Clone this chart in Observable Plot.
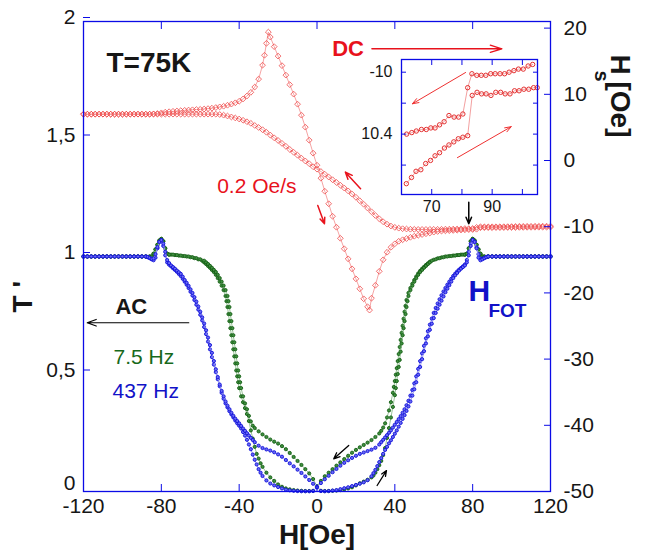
<!DOCTYPE html>
<html>
<head>
<meta charset="utf-8">
<script src="https://cdn.jsdelivr.net/npm/d3@7"></script>
<script src="https://cdn.jsdelivr.net/npm/@observablehq/plot@0.6"></script>
<style>
  html, body { margin: 0; padding: 0; background: white; }
  #wrap { position: relative; width: 654px; height: 550px; }
  #inset { position: absolute; left: 356px; top: 57px; }
</style>
</head>
<body>
<div id="wrap"><div id="main"></div><div id="inset"></div></div>
<script>
// ---------- axes / ticks ----------
const H_TICKS = [-120, -80, -40, 0, 40, 80, 120];
const T_TICKS = [0, 0.5, 1, 1.5, 2];
const T_TICK_LABELS = ["0", "0,5", "1", "1,5", "2"];
const HS_TICKS = [-50, -40, -30, -20, -10, 0, 10, 20];
const HS_DOMAIN = [-50, 21];
const INSET_X_TICKS = [70, 80, 90, 100];
const INSET_X_LABELS = ["70", "", "90", ""];
const INSET_Y_TICKS = [-10, -10.2, -10.4, -10.6];
const INSET_Y_LABELS = ["-10", "", "10.4", ""];

// ---------- DC: H_s [Oe] vs H [Oe], 0.2 Oe/s ----------
const dcSweepUp = [
[-120,7.0],[-118,7.0],[-116,7.0],[-114,7.0],[-112,7.0],[-110,7.0],[-108,7.0],[-106,7.0],[-104,7.0],[-102,7.0],[-100,7.0],[-98,7.0],[-96,7.0],[-94,7.0],[-92,7.0],[-90,7.0],[-88,7.0],[-86,7.0],[-84,7.05],[-82,7.1],
[-80,7.2],[-78,7.3],[-76,7.37],[-74,7.43],[-72,7.48],[-70,7.53],[-68,7.58],[-66,7.62],[-64,7.66],[-62,7.7],[-60,7.73],[-58,7.78],[-56,7.84],[-54,7.91],[-52,8.0],[-50,8.1],[-48,8.2],[-46,8.35],[-44,8.52],[-42,8.72],
[-40,8.95],[-38,9.3],[-36,9.75],[-34,10.3],[-32,11.1],[-30,12.3],[-28,14.4],[-27,15.9],[-26,17.7],[-25,19.4],[-24,18.65],[-22,17.2],[-20,15.77],[-18,14.33],[-16,12.9],[-14,11.46],[-12,10.03],[-10,8.51],[-8,6.85],[-6,5.04],
[-4,3.07],[-2,1.11],[0,-0.71],[2,-2.67],[4,-4.64],[6,-6.53],[8,-8.42],[10,-10.08],[12,-11.75],[14,-13.33],[16,-14.85],[18,-16.36],[20,-17.87],[22,-19.38],[24,-20.89],[26,-22.1],[27,-22.6],[28,-20.8],[30,-18.85],[32,-16.74],
[34,-15.0],[36,-13.86],[38,-13.11],[40,-12.58],[42,-12.2],[44,-11.97],[46,-11.79],[48,-11.6],[50,-11.44],[52,-11.3],[54,-11.18],[56,-11.06],[58,-10.95],[60,-10.82],[62,-10.72],[64,-10.66],[66,-10.62],[68,-10.59],[70,-10.56],[72,-10.53],
[74,-10.5],[76,-10.47],[78,-10.44],[80,-10.42],[82,-10.38],[84,-10.15],[86,-10.14],[88,-10.14],[90,-10.15],[92,-10.13],[94,-10.14],[96,-10.13],[98,-10.12],[100,-10.11],[102,-10.11],[104,-10.1],[106,-10.1],[108,-10.09],[110,-10.09],[112,-10.08],
[114,-10.08],[116,-10.07],[118,-10.07],[120,-10.06]
];
const dcSweepDown = [
[-120,7.0],[-118,7.0],[-116,7.0],[-114,7.0],[-112,7.0],[-110,7.0],[-108,7.0],[-106,7.0],[-104,7.0],[-102,7.0],[-100,7.0],[-98,7.0],[-96,7.0],[-94,7.0],[-92,7.0],[-90,7.0],[-88,7.0],[-86,7.0],[-84,7.0],[-82,7.0],
[-80,7.0],[-78,7.0],[-76,7.0],[-74,7.0],[-72,7.0],[-70,7.0],[-68,7.0],[-66,7.0],[-64,7.0],[-62,7.0],[-60,7.0],[-58,7.0],[-56,7.0],[-54,7.0],[-52,7.0],[-50,6.95],[-48,6.85],[-46,6.72],[-44,6.58],[-42,6.43],
[-40,6.27],[-38,6.08],[-36,5.86],[-34,5.62],[-32,5.3],[-30,4.99],[-28,4.66],[-26,4.27],[-24,3.84],[-22,3.43],[-20,3.03],[-18,2.59],[-16,2.15],[-14,1.68],[-12,1.24],[-10,0.8],[-8,0.35],[-6,-0.07],[-4,-0.48],[-2,-0.94],
[0,-1.31],[2,-1.66],[4,-2.07],[6,-2.49],[8,-2.9],[10,-3.31],[12,-3.73],[14,-4.16],[16,-4.59],[18,-5.06],[20,-5.55],[22,-6.08],[24,-6.61],[26,-7.18],[28,-7.74],[30,-8.3],[32,-8.8],[34,-9.25],[36,-9.62],[38,-9.9],
[40,-10.1],[42,-10.22],[44,-10.3],[46,-10.35],[48,-10.38],[50,-10.4],[52,-10.41],[54,-10.41],[56,-10.41],[58,-10.4],[60,-10.4],[62,-10.4],[64,-10.39],[66,-10.37],[68,-10.37],[70,-10.36],[72,-10.35],[74,-10.32],[76,-10.28],[78,-10.29],
[80,-10.27],[82,-10.1],[84,-10.01],[86,-10.02],[88,-10.02],[90,-10.01],[92,-10.01],[94,-10.01],[96,-10.0],[98,-9.99],[100,-9.98],[102,-9.97],[104,-9.95],[106,-9.95],[108,-9.94],[110,-9.94],[112,-9.93],[114,-9.93],[116,-9.92],[118,-9.92],
[120,-9.91]
];

// ---------- inset: H_s vs H near H_FOT ----------
const insetSweepUp = [
[61.6,-10.72],[63.3,-10.68],[64.8,-10.64],[66.4,-10.63],[68,-10.59],[69.6,-10.57],[71.1,-10.54],[72.6,-10.52],[74.2,-10.49],[75.7,-10.47],[77.3,-10.45],[78.8,-10.43],[80.3,-10.42],[81.9,-10.41],[83.4,-10.15],
[85,-10.13],[86.5,-10.14],[88,-10.14],[89.6,-10.15],[91.2,-10.13],[92.8,-10.13],[94.3,-10.14],[95.9,-10.14],[97.4,-10.12],[98.9,-10.12],[100.5,-10.11],[102.1,-10.11],[103.7,-10.1],[104.9,-10.1]
];
const insetSweepDown = [
[61.7,-10.4],[63.4,-10.39],[64.9,-10.38],[66.6,-10.37],[68.2,-10.37],[69.7,-10.36],[71.1,-10.36],[72.6,-10.34],[74.1,-10.32],[75.7,-10.28],[77.4,-10.29],[78.9,-10.29],[80.3,-10.27],[81.9,-10.1],
[83.3,-10.01],[84.9,-10.02],[86.4,-10.02],[87.9,-10.02],[89.5,-10.01],[91,-10.01],[92.6,-10.01],[94.1,-10.01],[95.6,-10.0],[97.2,-9.99],[98.7,-9.98],[100.3,-9.98],[101.9,-9.96],[103.4,-9.95]
];

// ---------- AC: T' vs H ----------
const ac75Up = [
[-120,1],[-118,1],[-116,1],[-114,1],[-112,1],[-110,1],[-108,1],[-106,1],[-104,1],[-102,1],[-100,1],[-98,1],[-96,1],[-94,1],[-92,1],[-90,1],[-88,1],[-86,1],
[-85,1],[-84,1.012],[-83,1.03],[-82,1.05],[-81,1.068],[-80,1.075],[-79,1.065],[-78,1.035],[-77,1.012],[-76,1.008],
[-74,1.008],[-72,1.006],[-70,1.004],[-68,1.002],[-66,1],[-64,0.997],[-62,0.993],[-60,0.988],[-58,0.982],[-57,0.975],[-56,0.968],[-55,0.96],[-54,0.952],[-53,0.943],[-52,0.934],[-51,0.922],[-50,0.908],[-49,0.893],[-48,0.876],[-47,0.857],
[-46,0.832],[-45.5,0.81],[-45,0.785],[-44.5,0.755],[-44,0.725],[-43.5,0.695],[-43,0.665],[-42.5,0.635],[-42,0.605],[-41.5,0.575],[-41,0.545],[-40.5,0.515],[-40,0.49],[-39.5,0.465],[-39,0.44],[-38,0.405],[-37,0.375],[-36,0.35],[-35,0.322],[-34,0.298],
[-33,0.28],[-32,0.27],[-30,0.256],[-28,0.243],[-26,0.232],[-24,0.221],[-22,0.212],[-20,0.204],[-18,0.193],[-16,0.18],[-14,0.164],[-12,0.147],[-10,0.13],[-8,0.113],[-6,0.095],[-4,0.077],[-2,0.053],[0,0.022],
[2,0.003],[4,0.002],[6,0.002],[8,0.003],[10,0.004],[12,0.006],[14,0.009],[16,0.013],[18,0.018],[20,0.026],[22,0.035],[24,0.042],[26,0.05],[28,0.06],[29,0.068],[30,0.08],[31,0.095],[32,0.112],[33,0.13],[34,0.155],
[35,0.185],[36,0.228],[37,0.27],[38,0.315],[39,0.36],[40,0.41],[40.5,0.44],[41,0.47],[41.5,0.5],[42,0.53],[42.5,0.56],[43,0.595],[43.5,0.63],[44,0.665],[44.5,0.695],[45,0.725],[45.5,0.755],[46,0.785],[46.5,0.81],[47,0.832],
[48,0.857],[49,0.876],[50,0.893],[51,0.908],[52,0.922],[53,0.934],[54,0.943],[55,0.952],[56,0.96],[57,0.968],[58,0.975],[59,0.982],[61,0.988],[63,0.993],[65,0.997],[67,1],[69,1.002],[71,1.004],[73,1.006],[75,1.008],
[76,1.008],[77,1.012],[78,1.035],[79,1.065],[80,1.075],[81,1.068],[82,1.05],[83,1.03],[84,1.012],[85,1],
[86,1],[88,1],[90,1],[92,1],[94,1],[96,1],[98,1],[100,1],[102,1],[104,1],[106,1],[108,1],[110,1],[112,1],[114,1],[116,1],[118,1],[120,1]
];
const ac75Down = [
[-120,1],[-118,1],[-116,1],[-114,1],[-112,1],[-110,1],[-108,1],[-106,1],[-104,1],[-102,1],[-100,1],[-98,1],[-96,1],[-94,1],[-92,1],[-90,1],[-88,1],[-86,1],
[-85,1],[-84,1.012],[-83,1.03],[-82,1.05],[-81,1.068],[-80,1.075],[-79,1.065],[-78,1.035],[-77,1.012],[-76,1.008],
[-75,1.008],[-73,1.006],[-71,1.004],[-69,1.002],[-67,1],[-65,0.997],[-63,0.993],[-61,0.988],[-59,0.982],[-58,0.975],[-57,0.968],[-56,0.96],[-55,0.952],[-54,0.943],[-53,0.934],[-52,0.922],[-51,0.908],[-50,0.893],[-49,0.876],[-48,0.857],
[-47,0.832],[-46.5,0.81],[-46,0.785],[-45.5,0.755],[-45,0.725],[-44.5,0.695],[-44,0.665],[-43.5,0.635],[-43,0.605],[-42.5,0.575],[-42,0.545],[-41.5,0.515],[-41,0.49],[-40.5,0.465],[-40,0.44],[-39,0.405],[-38,0.38],[-37,0.355],[-36,0.33],[-35,0.3],
[-34,0.26],[-33,0.225],[-32,0.19],[-31,0.16],[-30,0.14],[-29,0.12],[-28,0.105],[-26,0.08],[-24,0.06],[-22,0.045],[-20,0.03],[-18,0.02],[-16,0.013],[-14,0.009],[-12,0.006],[-10,0.004],[-8,0.003],[-6,0.002],[-4,0.002],[-2,0.003],
[0,0.02],[2,0.045],[4,0.065],[6,0.08],[8,0.095],[10,0.11],[12,0.124],[14,0.138],[16,0.152],[18,0.165],[20,0.177],[22,0.188],[24,0.198],[26,0.208],[28,0.219],[30,0.232],[32,0.247],[33,0.258],[34,0.272],[35,0.29],
[36,0.315],[37,0.345],[38,0.38],[39,0.42],[39.5,0.445],[40,0.47],[40.5,0.497],[41,0.525],[41.5,0.555],[42,0.585],[42.5,0.615],[43,0.645],[43.5,0.675],[44,0.705],[44.5,0.735],[45,0.765],[45.5,0.79],[46,0.815],[47,0.845],[48,0.866],
[49,0.884],[50,0.9],[51,0.915],[52,0.928],[53,0.939],[54,0.948],[55,0.956],[56,0.964],[57,0.971],[58,0.978],[60,0.986],[62,0.992],[64,0.996],[66,1],[68,1.002],[70,1.004],[72,1.006],[74,1.008],
[76,1.008],[77,1.012],[78,1.035],[79,1.065],[80,1.075],[81,1.068],[82,1.05],[83,1.03],[84,1.012],[85,1],
[86,1],[88,1],[90,1],[92,1],[94,1],[96,1],[98,1],[100,1],[102,1],[104,1],[106,1],[108,1],[110,1],[112,1],[114,1],[116,1],[118,1],[120,1]
];
const ac437Up = [
[-120,1],[-118,1],[-116,1],[-114,1],[-112,1],[-110,1],[-108,1],[-106,1],[-104,1],[-102,1],[-100,1],[-98,1],[-96,1],[-94,1],[-92,1],[-90,1],[-88,1],
[-87,0.998],[-86,0.994],[-85,0.99],[-84,0.992],[-83,1.01],[-82,1.04],[-81,1.062],[-80,1.07],[-79,1.055],[-78,1.02],[-77,0.985],[-76,0.972],[-75,0.962],[-74,0.955],[-73,0.948],[-72,0.94],[-71,0.933],[-70,0.926],[-69,0.914],[-68,0.9],
[-67,0.888],[-66,0.875],[-65,0.86],[-64,0.845],[-63,0.827],[-62,0.808],[-61,0.787],[-60,0.765],[-59,0.741],[-58,0.715],[-57,0.686],[-56,0.655],[-55,0.623],[-54,0.59],[-53,0.555],[-52,0.52],[-51,0.487],[-50,0.455],[-49,0.428],[-48,0.405],
[-47,0.383],[-46,0.365],[-45,0.35],[-44,0.335],[-43,0.322],[-42,0.31],[-41,0.3],[-40,0.29],[-39,0.279],[-38,0.268],[-37,0.258],[-36,0.248],[-35,0.238],[-34,0.228],[-33,0.219],[-32,0.21],[-30,0.195],[-28,0.185],[-26,0.179],[-24,0.174],
[-22,0.167],[-20,0.158],[-18,0.148],[-16,0.134],[-14,0.12],[-12,0.107],[-10,0.093],[-8,0.079],[-6,0.064],[-4,0.049],[-2,0.033],[0,0.018],
[2,0.002],[4,0.001],[6,0.002],[8,0.004],[10,0.006],[12,0.01],[14,0.014],[16,0.018],[18,0.023],[20,0.028],[22,0.033],[24,0.039],[26,0.048],[28,0.065],[29,0.078],[30,0.092],[31,0.108],[32,0.125],[33,0.142],[34,0.16],
[35,0.177],[36,0.19],[37,0.205],[38,0.218],[39,0.232],[40,0.246],[41,0.26],[42,0.276],[43,0.292],[44,0.309],[45,0.325],[46,0.343],[47,0.362],[48,0.383],[49,0.408],[50,0.435],[51,0.465],[52,0.497],[53,0.53],[54,0.563],
[55,0.597],[56,0.63],[57,0.66],[58,0.688],[59,0.714],[60,0.738],[61,0.76],[62,0.778],[63,0.795],[64,0.812],[65,0.83],[66,0.848],[67,0.863],[68,0.878],[69,0.893],[70,0.908],[71,0.92],[72,0.93],[73,0.94],[74,0.948],
[75,0.955],[76,0.962],[77,0.975],[78,1.005],[79,1.045],[80,1.07],[81,1.062],[82,1.035],[83,0.995],[84,0.984],[85,0.988],[86,0.993],[87,0.997],
[88,1],[90,1],[92,1],[94,1],[96,1],[98,1],[100,1],[102,1],[104,1],[106,1],[108,1],[110,1],[112,1],[114,1],[116,1],[118,1],[120,1]
];
const ac437Down = [
[-120,1],[-118,1],[-116,1],[-114,1],[-112,1],[-110,1],[-108,1],[-106,1],[-104,1],[-102,1],[-100,1],[-98,1],[-96,1],[-94,1],[-92,1],[-90,1],[-88,1],
[-87,0.997],[-86,0.993],[-85,0.988],[-84,0.984],[-83,0.995],[-82,1.035],[-81,1.062],[-80,1.07],[-79,1.045],[-78,1.005],[-77,0.975],[-76,0.965],[-75,0.958],[-74,0.95],[-73,0.943],[-72,0.935],[-71,0.926],[-70,0.917],[-69,0.905],[-68,0.893],
[-67,0.88],[-66,0.866],[-65,0.85],[-64,0.834],[-63,0.815],[-62,0.795],[-61,0.774],[-60,0.752],[-59,0.728],[-58,0.7],[-57,0.67],[-56,0.638],[-55,0.605],[-54,0.572],[-53,0.54],[-52,0.508],[-51,0.478],[-50,0.448],[-49,0.42],[-48,0.395],
[-47,0.375],[-46,0.358],[-45,0.342],[-44,0.328],[-43,0.315],[-42,0.302],[-41,0.29],[-40,0.28],[-39,0.268],[-38,0.253],[-37,0.238],[-36,0.22],[-35,0.2],[-34,0.18],[-33,0.157],[-32,0.135],[-31,0.115],[-30,0.095],[-29,0.08],[-28,0.066],
[-26,0.047],[-24,0.034],[-22,0.026],[-20,0.019],[-18,0.013],[-16,0.008],[-14,0.005],[-12,0.003],[-10,0.002],[-8,0.001],[-6,0.001],[-4,0.001],[-2,0.002],
[0,0.018],[2,0.036],[4,0.052],[6,0.067],[8,0.082],[10,0.096],[12,0.11],[14,0.122],[16,0.133],[18,0.143],[20,0.152],[22,0.16],[24,0.166],[26,0.172],[28,0.178],[30,0.186],[32,0.2],[33,0.21],[34,0.22],[35,0.23],
[36,0.24],[37,0.25],[38,0.26],[39,0.272],[40,0.284],[41,0.296],[42,0.308],[43,0.321],[44,0.335],[45,0.35],[46,0.367],[47,0.386],[48,0.408],[49,0.432],[50,0.46],[51,0.49],[52,0.522],[53,0.555],[54,0.588],[55,0.62],
[56,0.652],[57,0.682],[58,0.71],[59,0.736],[60,0.76],[61,0.781],[62,0.8],[63,0.818],[64,0.835],[65,0.851],[66,0.866],[67,0.88],[68,0.893],[69,0.905],[70,0.917],[71,0.927],[72,0.936],[73,0.944],[74,0.951],[75,0.958],
[76,0.966],[77,0.985],[78,1.02],[79,1.055],[80,1.07],[81,1.062],[82,1.04],[83,1.01],[84,0.992],[85,0.99],[86,0.994],[87,0.998],
[88,1],[90,1],[92,1],[94,1],[96,1],[98,1],[100,1],[102,1],[104,1],[106,1],[108,1],[110,1],[112,1],[114,1],[116,1],[118,1],[120,1]
];

// ---------- styling ----------
const BLUE = "#0b0be6", RED = "#e8121c", GREEN = "#17691a", TXT = "#161616";
const FONT = "'Liberation Sans', Arial, Helvetica, sans-serif";
// right (H_s) axis mapped onto the left (T') scale
const hsToT = hs => (hs - HS_DOMAIN[0]) / (HS_DOMAIN[1] - HS_DOMAIN[0]) * 2;

const dcX = d => d[0], dcY = d => hsToT(d[1]);
const acX = d => d[0], acY = d => d[1];

function dcMarks(data) {
  return [
    Plot.line(data, {x: dcX, y: dcY, stroke: "#f49a9a", strokeWidth: 0.9}),
    Plot.dot(data, {x: dcX, y: dcY, symbol: "diamond2", r: 2.6, stroke: "#ef4a4a", strokeWidth: 0.8, fill: "none"})
  ];
}
function acMarks(data, lineColor, dotStroke, dotFill) {
  return [
    Plot.line(data, {x: acX, y: acY, stroke: lineColor, strokeWidth: 0.9}),
    Plot.dot(data, {x: acX, y: acY, r: 1.6, stroke: dotStroke, strokeWidth: 0.9, fill: dotFill})
  ];
}
const leftLabel = d => T_TICK_LABELS[T_TICKS.indexOf(d)];

const main = Plot.plot({
  width: 654, height: 550,
  marginLeft: 83, marginRight: 104, marginTop: 21, marginBottom: 59,
  x: {domain: [-120, 120], axis: null},
  y: {domain: [0, 2], axis: null},
  style: {fontFamily: FONT, fontSize: "21px", color: TXT, background: "white", overflow: "visible"},
  marks: [
    ...dcMarks(dcSweepDown),
    ...dcMarks(dcSweepUp),
    ...acMarks(ac75Down, "#8dbd8d", "#155f15", "#3f8f3f"),
    ...acMarks(ac75Up, "#8dbd8d", "#155f15", "#3f8f3f"),
    ...acMarks(ac437Down, "#8f8ff2", "#1010d8", "#6a6af5"),
    ...acMarks(ac437Up, "#8f8ff2", "#1010d8", "#6a6af5"),
    Plot.frame({stroke: BLUE, strokeWidth: 1.3}),
    // axes
    Plot.axisX({anchor: "bottom", ticks: H_TICKS, tickSize: -7, tickPadding: 14, stroke: BLUE, fill: TXT, label: null, tickFormat: d => String(d)}),
    Plot.axisX({anchor: "top", ticks: H_TICKS, tickSize: -7, stroke: BLUE, label: null, tickFormat: () => ""}),
    Plot.axisY({anchor: "left", ticks: T_TICKS.slice(1), tickSize: -7, tickPadding: 15, dy: -4, stroke: BLUE, fill: TXT, label: null,
      tickFormat: leftLabel}),
    Plot.axisY({anchor: "left", ticks: T_TICKS.slice(0, 1), tickSize: 0, tickPadding: 8, dy: -8, fill: TXT, label: null,
      tickFormat: leftLabel}),
    Plot.axisY({anchor: "right", ticks: HS_TICKS.map(hsToT), tickSize: -7, tickPadding: 20, stroke: BLUE, fill: TXT, label: null,
      tickFormat: t => String(HS_TICKS[HS_TICKS.map(hsToT).indexOf(t)])}),
    // axis titles
    Plot.text(["H[Oe]"], {frameAnchor: "bottom", dy: 52, fontSize: 28, fontWeight: "bold", fill: TXT}),
    Plot.text(["T '"], {frameAnchor: "left", dx: -60, dy: 56, rotate: -90, fontSize: 28, fontWeight: "bold", fill: TXT}),
    Plot.text(["H"], {frameAnchor: "top-right", dx: 80, dy: 33, rotate: 90, textAnchor: "start", fontSize: 28, fontWeight: "bold", fill: TXT}),
    Plot.text(["s"], {frameAnchor: "top-right", dx: 59, dy: 60, rotate: 90, fontSize: 20, fontWeight: "bold", fill: TXT}),
    Plot.text(["[Oe]"], {frameAnchor: "top-right", dx: 80, dy: 60, rotate: 90, textAnchor: "start", fontSize: 28, fontWeight: "bold", fill: TXT}),
    // annotations
    Plot.text(["T=75K"], {x: -108.2, y: 1.823, textAnchor: "start", fontSize: 28, fontWeight: "bold", fill: TXT}),
    Plot.text(["DC"], {x: 7.8, y: 1.884, textAnchor: "start", fontSize: 22, fontWeight: "bold", fill: RED}),
    Plot.arrow([0], {x1: 28.2, y1: 1.884, x2: 95, y2: 1.884, stroke: RED, strokeWidth: 1.3, headLength: 14, headAngle: 35}),
    Plot.text(["0.2 Oe/s"], {x: -51.3, y: 1.298, textAnchor: "start", fontSize: 21, fill: RED}),
    Plot.arrow([0], {x1: 22.4, y1: 1.288, x2: 14.6, y2: 1.359, stroke: RED, strokeWidth: 1.5, headLength: 8, headAngle: 45}),
    Plot.arrow([0], {x1: 0.4, y1: 1.217, x2: 3.85, y2: 1.139, stroke: RED, strokeWidth: 1.5, headLength: 8, headAngle: 45}),
    Plot.arrow([0], {x1: 78, y1: 1.231, x2: 78, y2: 1.139, stroke: "#000", strokeWidth: 1.5, headLength: 9, headAngle: 45}),
    Plot.text(["AC"], {x: -103.6, y: 0.785, textAnchor: "start", fontSize: 22, fontWeight: "bold", fill: TXT}),
    Plot.arrow([0], {x1: -65.9, y1: 0.718, x2: -118.1, y2: 0.718, stroke: "#000", strokeWidth: 1.2, headLength: 12, headAngle: 40}),
    Plot.text(["7.5 Hz"], {x: -104.6, y: 0.57, textAnchor: "start", fontSize: 21, fill: GREEN}),
    Plot.text(["437 Hz"], {x: -105.1, y: 0.4255, textAnchor: "start", fontSize: 21, fill: "#1212c8"}),
    Plot.text(["H"], {x: 77.85, y: 0.851, textAnchor: "start", fontSize: 30, fontWeight: "bold", fill: "#1212c8"}),
    Plot.text(["FOT"], {x: 88.1, y: 0.77, textAnchor: "start", fontSize: 19, fontWeight: "bold", fill: "#1212c8"}),
    Plot.arrow([0], {x1: 16.3, y1: 0.196, x2: 8.6, y2: 0.139, stroke: "#000", strokeWidth: 1.3, headLength: 8, headAngle: 45}),
    Plot.arrow([0], {x1: 30.9, y1: 0.0255, x2: 35.7, y2: 0.089, stroke: "#000", strokeWidth: 1.3, headLength: 8, headAngle: 45})
  ]
});
document.getElementById("main").append(main);

const inset = Plot.plot({
  width: 183, height: 159,
  marginLeft: 45, marginRight: 2, marginTop: 2, marginBottom: 22,
  x: {domain: [60, 105], axis: null},
  y: {domain: [-10.79, -9.918], axis: null},
  style: {fontFamily: FONT, fontSize: "16px", color: TXT, background: "transparent", overflow: "visible"},
  marks: [
    Plot.line(insetSweepDown, {x: d => d[0], y: d => d[1], stroke: "#f3a0a0", strokeWidth: 1}),
    Plot.dot(insetSweepDown, {x: d => d[0], y: d => d[1], r: 2.2, stroke: "#e43030", strokeWidth: 1, fill: "none"}),
    Plot.line(insetSweepUp, {x: d => d[0], y: d => d[1], stroke: "#f3a0a0", strokeWidth: 1}),
    Plot.dot(insetSweepUp, {x: d => d[0], y: d => d[1], r: 2.2, stroke: "#e43030", strokeWidth: 1, fill: "none"}),
    Plot.frame({stroke: BLUE, strokeWidth: 1.3}),
    Plot.axisX({anchor: "bottom", ticks: INSET_X_TICKS, tickSize: -5, tickPadding: 11, stroke: BLUE, fill: TXT, label: null,
      tickFormat: d => INSET_X_LABELS[INSET_X_TICKS.indexOf(d)]}),
    Plot.axisX({anchor: "top", ticks: INSET_X_TICKS, tickSize: -5, stroke: BLUE, label: null, tickFormat: () => ""}),
    Plot.axisY({anchor: "left", ticks: INSET_Y_TICKS, tickSize: -5, tickPadding: 14, stroke: BLUE, fill: TXT, label: null,
      tickFormat: d => INSET_Y_LABELS[INSET_Y_TICKS.indexOf(d)]}),
    Plot.axisY({anchor: "right", ticks: INSET_Y_TICKS, tickSize: -5, stroke: BLUE, label: null, tickFormat: () => ""}),
    Plot.arrow([0], {x1: 81.2, y1: -10.002, x2: 63.6, y2: -10.204, stroke: "#ee3030", strokeWidth: 1, headLength: 10, headAngle: 40}),
    Plot.arrow([0], {x1: 78.5, y1: -10.552, x2: 96.3, y2: -10.352, stroke: "#ee3030", strokeWidth: 1, headLength: 10, headAngle: 40})
  ]
});
document.getElementById("inset").append(inset);
</script>
</body>
</html>
